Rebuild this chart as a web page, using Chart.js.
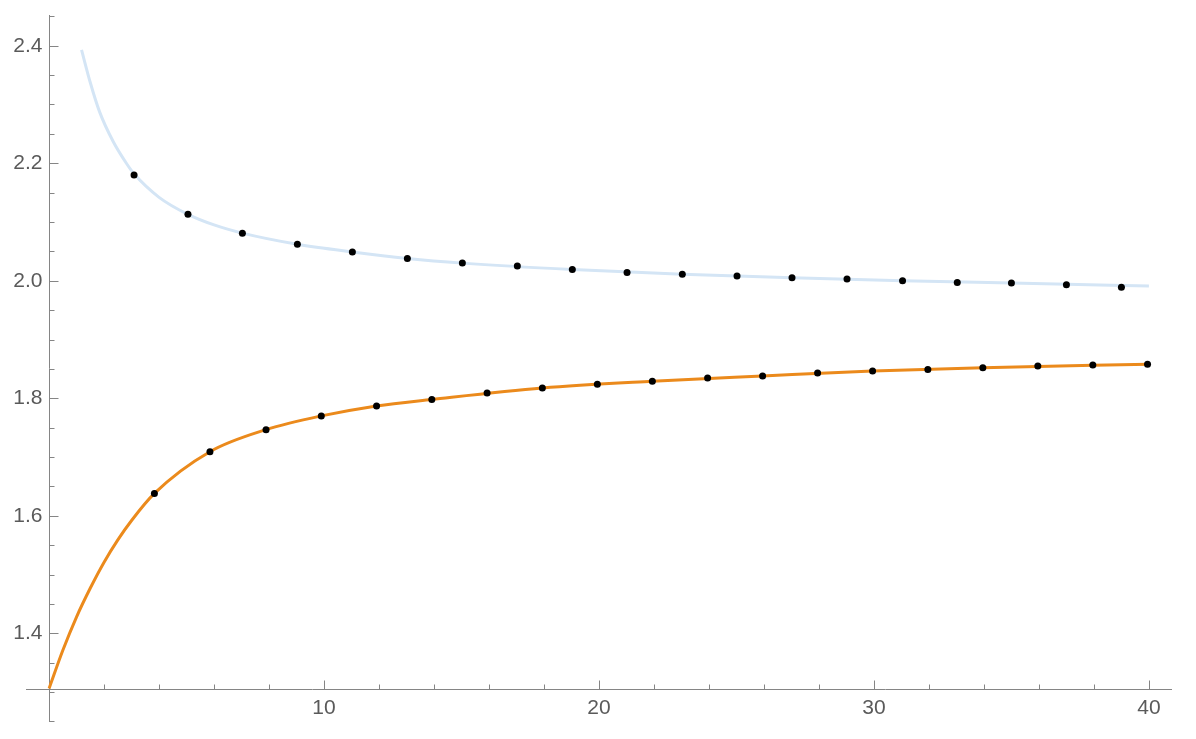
<!DOCTYPE html>
<html>
<head>
<meta charset="utf-8">
<script src="https://cdn.jsdelivr.net/npm/chart.js@4"></script>
<style>
  html, body { margin: 0; padding: 0; background: #fff; }
  canvas { display: block; }
</style>
</head>
<body>
<canvas id="plot" width="1196" height="739"></canvas>
<script>
// dots
const upperX = [3.09, 5.05, 7.03, 9.03, 11.03, 13.03, 15.03, 17.03, 19.03, 21.02, 23.03, 25.02, 27.02, 29.02, 31.04, 33.03, 35.0, 37.0, 39.0];
const upperY = [2.180, 2.113, 2.081, 2.062, 2.049, 2.038, 2.030, 2.025, 2.019, 2.014, 2.011, 2.008, 2.005, 2.003, 2.000, 1.997, 1.996, 1.993, 1.989];
const lowerX = [3.83, 5.85, 7.89, 9.90, 11.91, 13.92, 15.93, 17.94, 19.94, 21.94, 23.95, 25.95, 27.95, 29.95, 31.96, 33.96, 35.96, 37.96, 39.95];
const lowerY = [1.638, 1.709, 1.7465, 1.770, 1.787, 1.798, 1.809, 1.8175, 1.824, 1.829, 1.8345, 1.838, 1.843, 1.8465, 1.849, 1.852, 1.855, 1.8566, 1.858];

// curves
const blueCurveX = [1.18, 1.5, 1.84, 2.33, 2.81, 3.09, 4.0, 5.05, 6.0, 7.03, 9.03, 11.03, 13.03, 15.03, 19.03, 23.03, 27.02, 31.04, 35.0, 40.0];
const blueCurveY = [2.393, 2.337, 2.287, 2.237, 2.200, 2.182, 2.142, 2.113, 2.095, 2.081, 2.062, 2.049, 2.038, 2.030, 2.019, 2.011, 2.005, 2.000, 1.996, 1.991];
const orangeCurveX = [0, 0.5, 1.0, 1.5, 2.0, 2.5, 3.0, 3.83, 5.85, 7.89, 9.90, 11.91, 13.92, 17.94, 21.94, 25.95, 29.95, 33.96, 40.0];
const orangeCurveY = [1.306, 1.371, 1.428, 1.477, 1.521, 1.559, 1.592, 1.638, 1.709, 1.7465, 1.770, 1.787, 1.798, 1.8175, 1.829, 1.838, 1.8465, 1.852, 1.858];

// axis ticks
const xMajor = [10, 20, 30, 40];
const xMinor = [2, 4, 6, 8, 12, 14, 16, 18, 22, 24, 26, 28, 32, 34, 36, 38];
const yMajor = [1.4, 1.6, 1.8, 2.0, 2.2, 2.4];
const yMinor = [1.25, 1.3, 1.35, 1.45, 1.5, 1.55, 1.65, 1.7, 1.75, 1.85, 1.9, 1.95, 2.05, 2.1, 2.15, 2.25, 2.3, 2.35, 2.45];
const axisCross = 1.306;

function pts(xs, ys) {
    return xs.map((x, i) => ({x: x, y: ys[i]}));
}

const axesPlugin = {
    id: 'mmaAxes',
    beforeDatasetsDraw(chart) {
        const ctx = chart.ctx;
        const sx = chart.scales.x, sy = chart.scales.y;
        const area = chart.chartArea;
        const x0 = Math.round(sx.getPixelForValue(0)) + 0.5;
        const y0 = Math.round(sy.getPixelForValue(axisCross)) + 0.5;
        ctx.save();
        ctx.strokeStyle = '#858585';
        ctx.lineWidth = 1;
        ctx.beginPath();
        ctx.moveTo(area.left, y0);
        ctx.lineTo(area.right, y0);
        ctx.moveTo(x0, area.top);
        ctx.lineTo(x0, area.bottom);
        xMajor.forEach(v => {
            const p = Math.round(sx.getPixelForValue(v)) + 0.5;
            ctx.moveTo(p, y0); ctx.lineTo(p, y0 - 9);
        });
        xMinor.forEach(v => {
            const p = Math.round(sx.getPixelForValue(v)) + 0.5;
            ctx.moveTo(p, y0); ctx.lineTo(p, y0 - 5);
        });
        yMajor.forEach(v => {
            const p = Math.round(sy.getPixelForValue(v)) + 0.5;
            ctx.moveTo(x0, p); ctx.lineTo(x0 + 9, p);
        });
        yMinor.forEach(v => {
            const p = Math.round(sy.getPixelForValue(v)) + 0.5;
            ctx.moveTo(x0, p); ctx.lineTo(x0 + 5, p);
        });
        ctx.stroke();

        ctx.fillStyle = '#5a5a5a';
        ctx.font = '21px "Liberation Sans", Arial, sans-serif';
        ctx.textAlign = 'center';
        ctx.textBaseline = 'middle';
        xMajor.forEach(v => {
            ctx.fillText(String(v), sx.getPixelForValue(v), y0 + 19);
        });
        ctx.textAlign = 'right';
        yMajor.forEach(v => {
            ctx.fillText(v.toFixed(1), x0 - 7, sy.getPixelForValue(v));
        });
        ctx.restore();
    }
};

const chart = new Chart(
    document.getElementById('plot'),
    {
        type: 'scatter',
        data: {
            datasets: [
                {
                    label: 'upper points',
                    data: pts(upperX, upperY),
                    backgroundColor: '#000',
                    borderWidth: 0,
                    pointRadius: 3.5,
                },
                {
                    label: 'lower points',
                    data: pts(lowerX, lowerY),
                    backgroundColor: '#000',
                    borderWidth: 0,
                    pointRadius: 3.5,
                },
                {
                    label: 'upper curve',
                    data: pts(blueCurveX, blueCurveY),
                    showLine: true,
                    borderColor: '#d4e5f5',
                    borderWidth: 3,
                    pointRadius: 0,
                    cubicInterpolationMode: 'monotone',
                },
                {
                    label: 'lower curve',
                    data: pts(orangeCurveX, orangeCurveY),
                    showLine: true,
                    borderColor: '#eb8a1c',
                    borderWidth: 3,
                    pointRadius: 0,
                    cubicInterpolationMode: 'monotone',
                }
            ]
        },
        options: {
            responsive: false,
            animation: false,
            layout: { padding: { left: 26, right: 24, top: 15, bottom: 17 } },
            plugins: { legend: { display: false }, tooltip: { enabled: false } },
            scales: {
                x: { type: 'linear', min: -0.84, max: 40.84, display: false },
                y: { type: 'linear', min: 1.249, max: 2.4523, display: false }
            }
        },
        plugins: [axesPlugin]
    }
);
</script>
</body>
</html>
